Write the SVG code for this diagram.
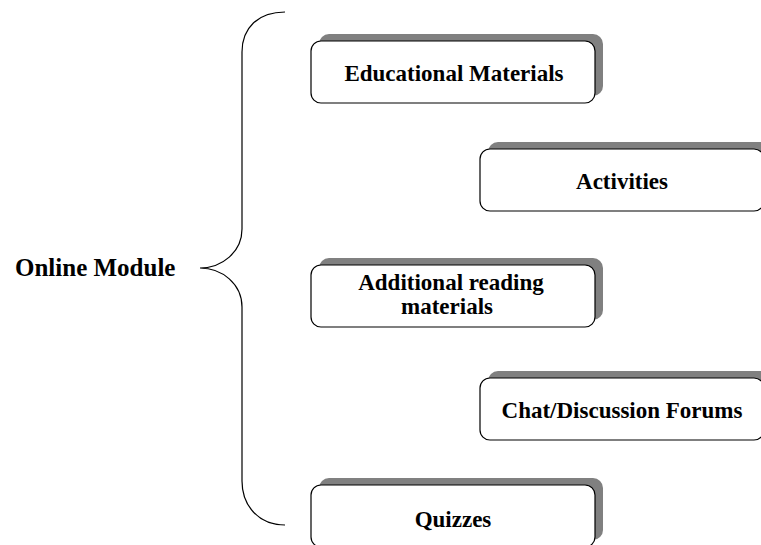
<svg xmlns="http://www.w3.org/2000/svg" width="761" height="545" viewBox="0 0 761 545">
<style>
.sh{fill:#808080;stroke:none}
.bx{fill:#ffffff;stroke:#000000;stroke-width:1.2}
.t{font-family:"Liberation Serif","Times New Roman",serif;font-weight:bold;font-size:23px;fill:#000;text-anchor:middle}
.big{font-size:25px;text-anchor:start}
.br{fill:none;stroke:#000;stroke-width:1.2}
</style>
<rect width="761" height="545" fill="#fff"/>
<g id="connectors">
<path class="br" d="M285,12 C258,12 242,28 242,52 L242,229 C242,252 222,268 200,268 C222,268 242,284 242,307 L242,481 C242,505 258,525 285,525"/>
</g>
<g id="online-module">
<text class="t big" x="15" y="276">Online Module</text>
</g>
<g id="educational-materials">
<rect class="sh" x="319" y="34" width="284" height="62" rx="10"/>
<rect class="bx" x="311" y="41" width="284" height="62" rx="10"/>
<text class="t" x="454" y="81">Educational Materials</text>
</g>
<g id="activities">
<rect class="sh" x="488" y="142" width="284" height="62" rx="10"/>
<rect class="bx" x="480" y="149" width="284" height="62" rx="10"/>
<text class="t" x="622" y="189">Activities</text>
</g>
<g id="additional-reading">
<rect class="sh" x="319" y="258" width="284" height="62" rx="10"/>
<rect class="bx" x="311" y="265" width="284" height="62" rx="10"/>
<text class="t" x="451" y="290">Additional reading</text>
<text class="t" x="447" y="314">materials</text>
</g>
<g id="chat-forums">
<rect class="sh" x="488" y="371" width="284" height="62" rx="10"/>
<rect class="bx" x="480" y="378" width="284" height="62" rx="10"/>
<text class="t" x="622" y="418">Chat/Discussion Forums</text>
</g>
<g id="quizzes">
<rect class="sh" x="319" y="478" width="284" height="62" rx="10"/>
<rect class="bx" x="311" y="485" width="284" height="62" rx="10"/>
<text class="t" x="453" y="527">Quizzes</text>
</g>
</svg>
